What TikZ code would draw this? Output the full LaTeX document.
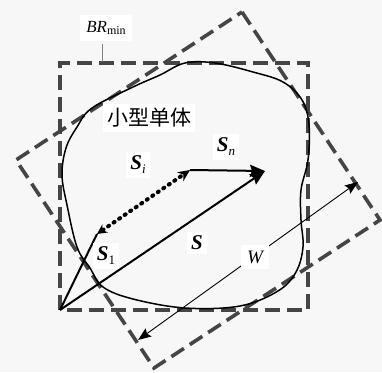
\documentclass[tikz,border=0pt]{standalone}
\usepackage{fontspec}
\setmainfont{Liberation Serif}
\newfontfamily\cjk{Noto Sans CJK SC}
\usetikzlibrary{arrows.meta}
\definecolor{dgray}{HTML}{454545}
\definecolor{bgc}{HTML}{F7F7F7}
\begin{document}
\begin{tikzpicture}[x=1pt,y=-1pt,
  dashbox/.style={draw=dgray, line width=3.6pt, dash pattern=on 15pt off 7pt},
  blobline/.style={draw=black, line width=1.5pt},
  vec/.style={draw=black, line width=2pt, -{Stealth[length=15pt,width=12pt,inset=2pt]}},
  thinvec/.style={draw=black, line width=0.9pt, {Stealth[length=13pt,width=10pt,inset=2pt]}-{Stealth[length=13pt,width=10pt,inset=2pt]}},
  lbl/.style={fill=white, inner sep=4pt, font=\fontsize{21}{21}\selectfont},
  dotvec/.style={draw=black, line width=4pt, line cap=round, dash pattern=on 1.2pt off 5.5pt,
    {Stealth[length=10pt,width=10pt,line width=0pt]}-{Stealth[length=12pt,width=11pt,line width=0pt]}},
]
\useasboundingbox (0,0) rectangle (382,372);
\fill[bgc] (0,0) rectangle (382,372);

% axis-aligned bounding rectangle
\coordinate (A1) at (60,63);
\coordinate (A2) at (308,310);
\draw[dashbox] (60,310) -- (60,63) -- (308,63) -- (308,310) -- cycle;

% rotated minimum bounding rectangle
\coordinate (T) at (242,12);
\coordinate (R) at (380,220);
\coordinate (B) at (154,368);
\coordinate (L) at (16,160);
\draw[dashbox] (T) -- (R) -- (B) -- (L) -- cycle;

% blob outline
\draw[blobline] plot[smooth cycle, tension=0.6] coordinates {
 (185,63) (215,63) (253,72) (283,82) (302,100) (309,125) (308,160) (301,190)
 (301,220) (303,247) (296,272) (278,291) (240,306) (185,308) (133,299)
 (103,287) (90,268) (77,247) (67,205) (62,175) (66,148) (77,127) (92,108)
 (133,87) (160,75)};

% vectors
\coordinate (O) at (60,310);
\coordinate (Tip) at (265,171);
\coordinate (P1) at (97,234);
\coordinate (Pi) at (190,170);
\draw[vec] (O) -- (Tip);
\draw[vec] (Pi) -- (Tip);
\draw[draw=black, line width=2pt] (O) -- (P1);
\draw[dotvec] (P1) -- (Pi);

% W dimension
\coordinate (W1) at (138,340);
\coordinate (W2) at (358,182);
\draw[thinvec] (W1) -- (W2);

% labels
\node[fill=white, inner sep=6pt, font=\fontsize{17}{17}\selectfont] (br) at (106,28) {\itshape BR\raisebox{-2.5pt}{\upshape\fontsize{12}{12}\selectfont min}};
\draw[gray, line width=0.6pt] (102,44) -- (102,62);
\node[fill=white, inner sep=4pt, font=\cjk\fontsize{21}{21}\selectfont] (cn) at (149,118) {小型单体};
\node[lbl] (si) at (138,165) {\bfseries\itshape S\raisebox{-4pt}{\mdseries\fontsize{13}{13}\selectfont i}};
\node[lbl] (sn) at (226,147) {\bfseries\itshape S\raisebox{-4pt}{\mdseries\fontsize{13}{13}\selectfont n}};
\node[lbl] (s) at (197,243) {\bfseries\itshape S};
\node[lbl] (s1) at (106,256) {\bfseries\itshape S\raisebox{-4pt}{\mdseries\upshape\fontsize{13}{13}\selectfont 1}};
\node[fill=white, inner sep=6pt, font=\fontsize{19}{19}\selectfont] (w) at (255,257) {\itshape W};
\end{tikzpicture}
\end{document}
